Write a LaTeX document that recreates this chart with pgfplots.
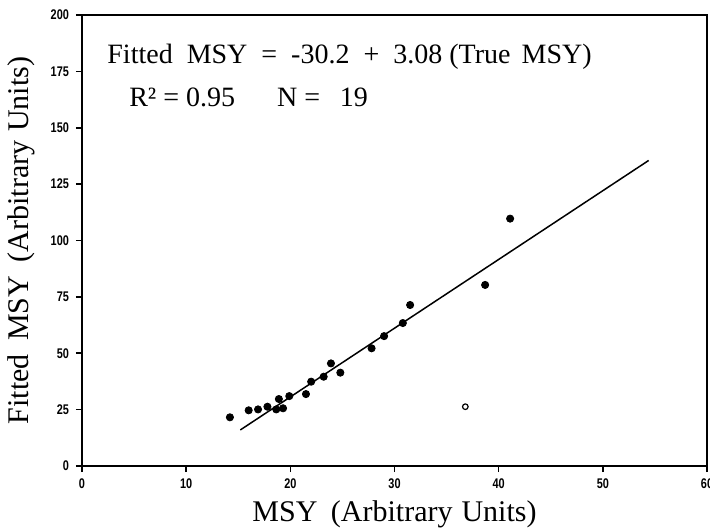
\documentclass[border=0pt]{standalone}
\usepackage{fontspec}
\setmainfont{Liberation Serif}
\newfontfamily\tickfont[FakeStretch=0.78]{Liberation Sans}
\usepackage{pgfplots}
\pgfplotsset{compat=1.18}

\begin{document}
\begin{tikzpicture}
\begin{axis}[
    at={(0,0)}, anchor=south west,
    scale only axis,
    width=312.5pt, height=225.5pt,
    xmin=0, xmax=60, ymin=0, ymax=200,
    xtick={0,10,...,60},
    ytick={0,25,...,200},
    tick pos=left,
    tick align=outside,
    major tick length=3pt,
    axis line style={line width=1pt},
    every tick/.style={black, line width=0.8pt},
    tick label style={font=\tickfont\bfseries\fontsize{7}{8}\selectfont},
    /pgf/number format/assume math mode=true,
    xlabel={MSY\hspace{0.45em}(Arbitrary\hspace{0.3em}Units)},
    ylabel={Fitted\hspace{0.45em}MSY\hspace{0.45em}(Arbitrary\hspace{0.3em}Units)},
    label style={font=\fontsize{15}{17}\selectfont},
    xlabel style={yshift=1pt},
    ylabel style={yshift=1pt},
    clip=false,
]
% fitted line
\addplot[black, line width=0.75pt] coordinates {(15.2,16) (54.4,135.5)};
% estimates used in fit
\addplot[only marks, mark=*, mark size=1.8pt, black] coordinates {
    (14.2,21.6) (16.0,24.7) (16.9,25.1) (17.8,26.3) (18.65,25.1)
    (18.9,29.7) (19.3,25.6) (19.9,31.0) (21.5,31.9) (22.0,37.4)
    (23.2,39.6) (23.9,45.5) (24.8,41.4) (27.8,52.2) (29.0,57.6)
    (30.8,63.4) (31.5,71.4) (38.7,80.3) (41.1,109.7)
};
% excluded point
\addplot[only marks, mark=o, mark size=1.4pt, black, line width=0.6pt] coordinates {(36.8,26.3)};
\node[anchor=base west, inner sep=0pt, font=\fontsize{14}{16}\selectfont] at (axis cs:2.4,178.5)
    {Fitted\hspace{0.5em}MSY\hspace{0.5em}=\hspace{0.5em}-30.2\hspace{0.5em}+\hspace{0.5em}3.08 (True\hspace{0.4em}MSY)};
\node[anchor=base west, inner sep=0pt, font=\fontsize{14}{16}\selectfont] at (axis cs:4.5,159.5)
    {R² = 0.95\hspace{1.5em}N =\hspace{0.7em}19};
\end{axis}
\pgfresetboundingbox
\path[use as bounding box] (-41pt,-32.5pt) rectangle (314pt,233pt);
\end{tikzpicture}
\end{document}
